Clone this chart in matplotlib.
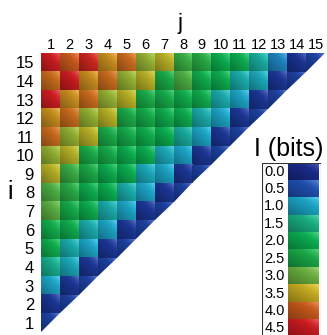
import numpy as np
import matplotlib
matplotlib.use("Agg")
import matplotlib.pyplot as plt
from matplotlib.colors import LinearSegmentedColormap, Normalize
from matplotlib.patches import Polygon, Rectangle

plt.rcParams['font.family'] = ['Liberation Sans', 'DejaVu Sans']

# mutual information I(bits) for pairs (i, j), j <= i ; row i holds j = 1..i
rows = {
    15: [4.5, 4.0, 4.4, 3.7, 3.9, 3.2, 3.4, 2.7, 2.6, 2.0, 2.0, 1.3, 0.8, 0.1, 0.35],
    14: [3.9, 4.5, 3.7, 3.9, 3.2, 3.4, 2.5, 2.8, 2.2, 2.1, 1.2, 1.1, 0.15, 0.3],
    13: [4.5, 3.7, 3.9, 3.2, 3.4, 2.5, 2.4, 2.2, 2.2, 1.2, 1.0, 0.15, 0.3],
    12: [3.7, 3.9, 3.2, 3.4, 2.5, 2.4, 2.2, 2.1, 1.2, 1.0, 0.15, 0.3],
    11: [3.9, 3.2, 3.4, 2.5, 2.4, 2.2, 2.0, 1.3, 1.0, 0.15, 0.3],
    10: [3.2, 3.4, 2.5, 2.4, 2.1, 2.0, 1.1, 1.0, 0.15, 0.3],
    9: [3.4, 2.7, 2.5, 2.1, 2.0, 1.1, 1.0, 0.15, 0.3],
    8: [2.8, 2.6, 2.1, 2.0, 1.2, 1.0, 0.15, 0.3],
    7: [2.9, 2.4, 2.1, 1.2, 1.0, 0.15, 0.3],
    6: [2.3, 2.2, 1.2, 1.0, 0.15, 0.3],
    5: [2.2, 1.2, 1.0, 0.15, 0.3],
    4: [1.4, 1.1, 0.15, 0.3],
    3: [1.0, 0.15, 0.3],
    2: [0.15, 0.3],
    1: [0.3],
}

cbar_levels = [0.0, 0.5, 1.0, 1.5, 2.0, 2.5, 3.0, 3.5, 4.0, 4.5]
cbar_colors = ["#1a2c8c", "#1f50b0", "#1ca8c8", "#18b080", "#0aae50",
               "#18aa48", "#6cb040", "#c8b020", "#c85a1c", "#cc1c20"]

cmap = LinearSegmentedColormap.from_list(
    "ibits", [(v / 4.5, c) for v, c in zip(cbar_levels, cbar_colors)])
norm = Normalize(0, 4.5)

N = 24
uu, vv = np.meshgrid(np.linspace(0, 1, N), np.linspace(0, 1, N))
t = 0.5 * (uu + vv)
fac = 0.66 + 0.46 * t
glow = 0.28 * np.clip((uu + vv - 1.2) / 0.8, 0, 1) ** 2


def shaded(val):
    base = np.array(cmap(norm(val))[:3])
    img = base[None, None, :] * fac[:, :, None]
    img = img + glow[:, :, None] * (1 - img)
    return np.clip(img, 0, 1)


fig = plt.figure(figsize=(3.27, 3.35), dpi=100)
ax = fig.add_axes([41 / 327, 3 / 335, 284 / 327, 279 / 335])

for i, vals in rows.items():
    for j, v in enumerate(vals, start=1):
        im = ax.imshow(shaded(v), extent=[j - 0.5, j + 0.5, i - 0.5, i + 0.5],
                       origin="lower", interpolation="bilinear", aspect="auto")
        if j == i:
            tri = Polygon([(j - 0.5, i - 0.5), (j - 0.5, i + 0.5), (j + 0.5, i + 0.5)],
                          closed=True, transform=ax.transData)
            im.set_clip_path(tri)
ax.set_xlim(0.5, 15.5)
ax.set_ylim(0.5, 15.5)

for s in ax.spines.values():
    s.set_visible(False)
ax.xaxis.tick_top()
ax.set_xticks(range(1, 16))
ax.set_yticks(range(1, 16))
ax.tick_params(length=0)
ax.tick_params(axis="x", labelsize=10.5, pad=1)
ax.tick_params(axis="y", labelsize=12, pad=5)
ax.patch.set_alpha(0)

fig.text(180 / 327, 1 - 29 / 335, "j", fontsize=16, ha="center", va="baseline")
fig.text(10 / 327, 1 - 192 / 335, "i", fontsize=18, ha="center", va="center")
fig.text(289 / 327, 1 - 149 / 335, "I (bits)", fontsize=18, ha="center", va="center")

# colour key
step = 17.4
cax = fig.add_axes([262 / 327, 1 - 163 / 335 - 10 * step / 335, 59 / 327, 10 * step / 335])
cax.axis("off")
cax.add_patch(Rectangle((0, 0), 1, 10, fill=False, edgecolor="#333333", lw=0.8))
for k, lev in enumerate(cbar_levels):
    cax.imshow(shaded(lev)[::-1], extent=[0.44, 0.95, k + 1, k],
               interpolation="bilinear", aspect="auto")
    cax.text(0.04, k + 0.5, f"{lev:.1f}", fontsize=10.5, ha="left", va="center")
cax.set_xlim(0, 1)
cax.set_ylim(10, 0)

fig.savefig("out.png", dpi=100)
